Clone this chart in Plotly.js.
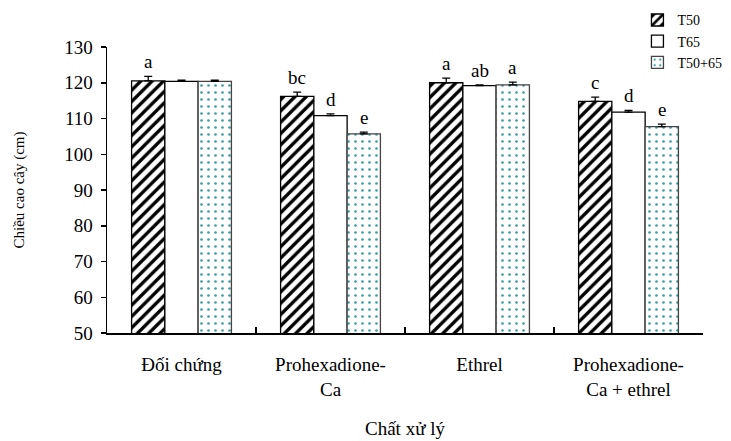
<!DOCTYPE html>
<html>
<head>
<meta charset="utf-8">
<script src="https://cdn.plot.ly/plotly-3.0.1.min.js"></script>
<style>html,body{margin:0;padding:0;background:#fff;}#chart{width:731px;height:441px;}</style>
</head>
<body>
<div id="chart"></div>
<script>
const categories = ['Đối chứng', 'Prohexadione-<br>Ca', 'Ethrel', 'Prohexadione-<br>Ca + ethrel'];
const seriesNames = ['T50', 'T65', 'T50+65'];
const t50 = [120.5, 116.2, 120.0, 114.8];
const t65 = [120.4, 110.8, 119.2, 111.8];
const t5065 = [120.4, 105.7, 119.4, 107.7];
const err50 = [1.3, 1.2, 1.3, 1.2];
const err65 = [0.3, 0.5, 0.2, 0.5];
const err5065 = [0.3, 0.5, 0.8, 0.7];
const let50 = ['a', 'bc', 'a', 'c'];
const let65 = ['', 'd', 'ab', 'd'];
const let5065 = ['', 'e', 'a', 'e'];

const serif = '"Liberation Serif", "Times New Roman", "DejaVu Serif", serif';
const values = [t50, t65, t5065];
const errs = [err50, err65, err5065];
const letters = [let50, let65, let5065];
const patterns = [
  {shape: '/', fgcolor: '#000', bgcolor: '#fff', size: 8, solidity: 0.42, fillmode: 'replace'},
  {shape: '', bgcolor: '#fff'},
  {shape: '.', fgcolor: '#3a9fa0', bgcolor: '#fff', size: 7, solidity: 0.12, fillmode: 'replace'}
];
const lineColors = ['#000', '#000', '#444'];

const traces = values.map((v, k) => ({
  type: 'bar',
  name: seriesNames[k],
  x: categories,
  y: v,
  marker: {color: '#fff', pattern: patterns[k], line: {color: lineColors[k], width: 1.3}},
  error_y: {type: 'data', array: errs[k], arrayminus: errs[k].map(() => 0), symmetric: false,
            color: '#000', thickness: 1.3, width: 4},
  hoverinfo: 'skip'
}));

const bargap = 0.33;
const bw = (1 - bargap) / 3;
const annotations = [];
values.forEach((v, k) => {
  v.forEach((val, i) => {
    if (!letters[k][i]) return;
    annotations.push({
      x: i + (k - 1) * bw, y: val + errs[k][i], xref: 'x', yref: 'y',
      text: letters[k][i], showarrow: false, yanchor: 'bottom', yshift: 2,
      font: {family: serif, size: 19, color: '#000'}
    });
  });
});

const layout = {
  width: 731, height: 441,
  margin: {l: 107, r: 28, t: 47, b: 108, autoexpand: false},
  paper_bgcolor: '#fff', plot_bgcolor: '#fff',
  barmode: 'group', bargap: bargap, bargroupgap: 0,
  font: {family: serif, color: '#000'},
  showlegend: true,
  legend: {x: 0.89, xanchor: 'left', xref: 'paper', y: 0.99, yanchor: 'top', yref: 'container',
           bgcolor: 'rgba(0,0,0,0)',
           font: {family: serif, size: 14, color: '#000'}, tracegroupgap: 0},
  xaxis: {
    type: 'category', showline: true, linecolor: '#000', linewidth: 1.5,
    ticks: 'inside', tickson: 'boundaries', ticklen: 6, tickcolor: '#000', tickwidth: 1.5,
    tickfont: {family: serif, size: 19, color: '#000'}, showgrid: false, zeroline: false,
    ticklabelstandoff: 14,
    title: {text: 'Chất xử lý', font: {family: serif, size: 19, color: '#000'}, standoff: 22}
  },
  yaxis: {
    range: [50, 130], dtick: 10, showline: true, linecolor: '#000', linewidth: 1.5,
    ticks: 'outside', ticklen: 5, tickcolor: '#000', tickwidth: 1.5,
    tickfont: {family: serif, size: 19, color: '#000'}, showgrid: false, zeroline: false,
    ticklabelstandoff: 4,
    title: {text: 'Chiều cao cây (cm)', font: {family: serif, size: 15, color: '#000'}, standoff: 36}
  },
  annotations: annotations
};

Plotly.newPlot('chart', traces, layout, {displayModeBar: false, staticPlot: true});
</script>
</body>
</html>
